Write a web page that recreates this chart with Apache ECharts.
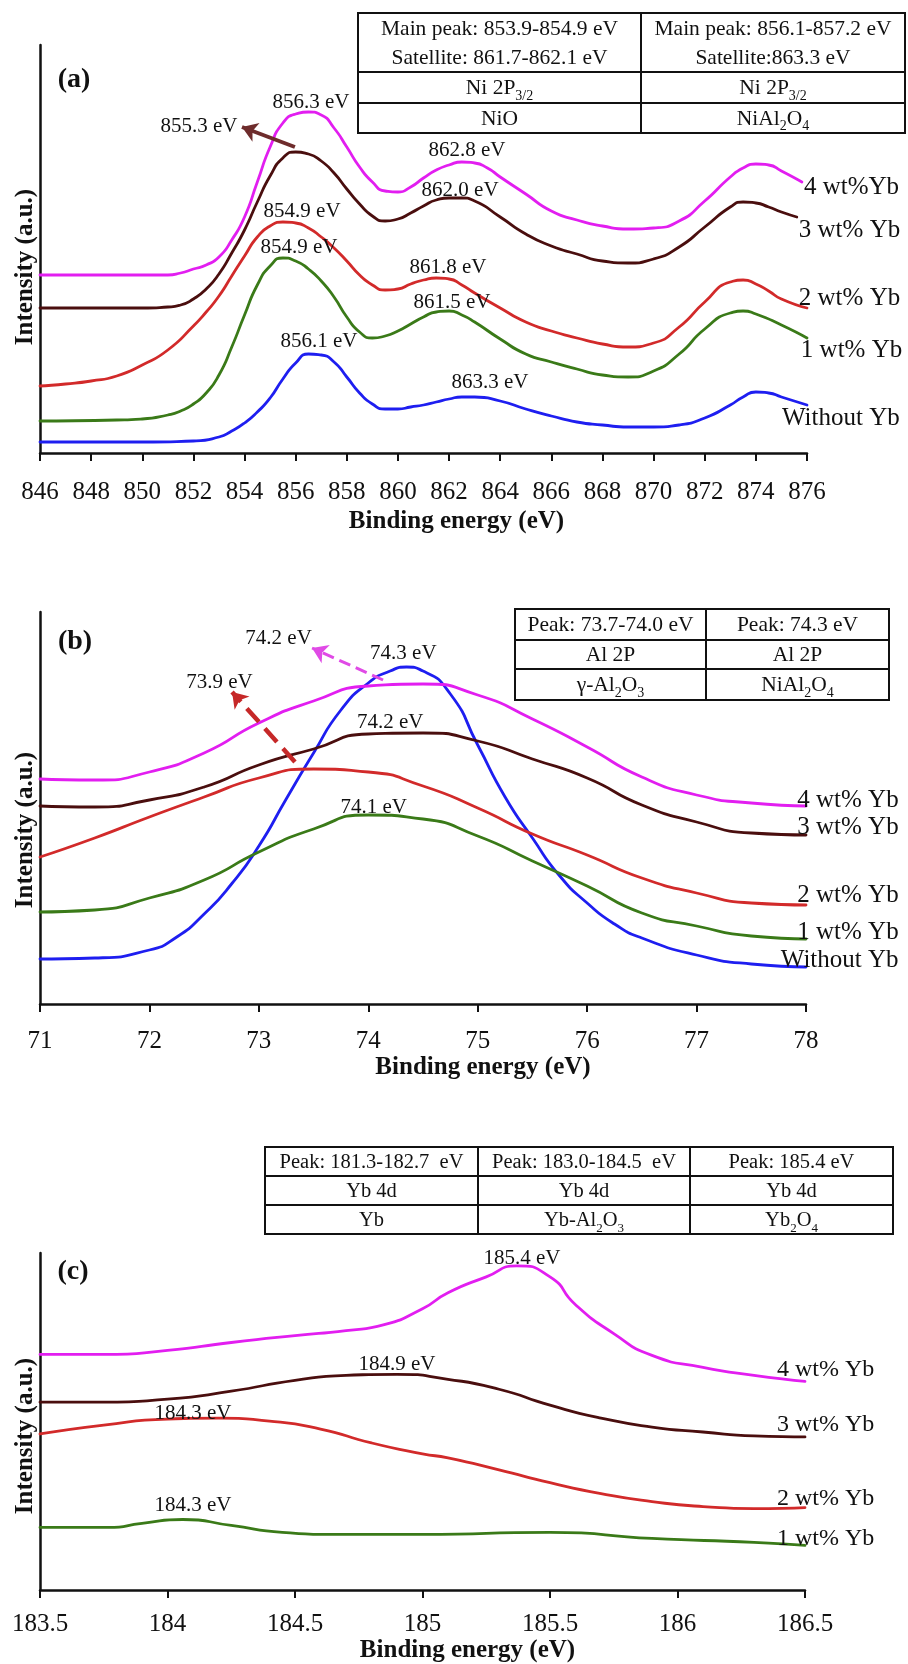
<!DOCTYPE html>
<html>
<head>
<meta charset="utf-8">
<script src="https://cdn.jsdelivr.net/npm/echarts@6/dist/echarts.min.js"></script>
<style>
html, body { margin: 0; padding: 0; background: #fff; }
#fig_xps { width: 908px; height: 1664px; }
</style>
</head>
<body>
<div id="fig_xps"></div>
<script>
var SERIF = '"Liberation Serif", "Times New Roman", serif';
var INK = '#111';

// colours per loading
var c_yb4 = '#e21ef0';
var c_yb3 = '#4a0e0e';
var c_yb2 = '#d22a2a';
var c_yb1 = '#3a7a18';
var c_yb0 = '#1e1ef0';

// ---------------- (a) Ni 2p, [binding energy eV, intensity a.u.]
var ni_axis = {min: 846, max: 876, interval: 2, top: 408};
var ni_yb4 = [[846,178],[851,178],[851.5,180],[852,184],[852.5,188],[853,196],[853.5,213],[854,236],[854.5,271],[855,306],[855.5,330],[856,339],[856.5,341],[857,338],[857.5,325],[858,306],[858.5,286],[859,271],[859.5,262],[860,261],[860.5,266],[861,275],[861.5,283],[862,288],[862.5,291],[863,290],[863.5,285],[864,276],[865,259],[866,242],[867,233],[868,227],[869,224],[870,225],[871,232],[872,252],[873,276],[873.5,285],[874,289],[874.5,288],[875,282],[875.8,271]];
var ni_yb3 = [[846,145],[850,145],[851,146],[851.5,148],[852,154],[852.5,164],[853,179],[853.5,200],[854,223],[854.5,251],[855,277],[855.5,295],[856,301],[856.5,299],[857,292],[857.5,280],[858,264],[858.5,249],[859,237],[859.5,232],[860,234],[860.5,240],[861,247],[861.5,253],[862,255],[862.5,255],[863,252],[864,236],[865,219],[866,207],[867,199],[868,192],[869,190],[870,194],[871,206],[872,226],[873,246],[873.5,251],[874,250],[874.5,246],[875,241],[875.6,236]];
var ni_yb2 = [[846,67],[847,69],[848,72],[849,77],[850,88],[851,103],[852,127],[852.5,141],[853,157],[853.5,177],[854,197],[854.5,216],[855,227],[855.5,231],[856,230],[856.5,225],[857,216],[857.5,205],[858,192],[858.5,178],[859,168],[859.5,163],[860,164],[860.5,169],[861,173],[861.5,175],[862,174],[862.5,168],[863,160],[864,145],[865,131],[866,122],[867,115],[868,109],[869,106],[870,110],[871,126],[872,151],[873,171],[873.5,173],[874,169],[874.5,162],[875,154],[876,145]];
var ni_yb1 = [[846,32],[849,33],[850,34],[851,38],[851.5,42],[852,49],[852.5,60],[853,78],[853.5,106],[854,138],[854.5,168],[855,187],[855.5,195],[856,192],[856.5,184],[857,172],[857.5,156],[858,136],[858.5,121],[859,115],[859.5,117],[860,122],[860.5,129],[861,136],[861.5,141],[862,142],[862.5,138],[863,131],[864,114],[865,99],[866,91],[867,84],[868,78],[869,76],[870,82],[871,99],[872,124],[873,140],[873.5,142],[874,139],[875,128],[876,115]];
var ni_yb0 = [[846,11],[850,11],[852,12],[853,16],[853.5,22],[854,30],[854.5,41],[855,55],[855.5,74],[856,90],[856.5,99],[857,98],[857.5,91],[858,76],[858.5,60],[859,49],[859.5,44],[860,44],[860.5,46],[861,48],[861.5,51],[862,54],[862.5,56],[863,56],[864,52],[865,44],[866,37],[867,31],[868,28],[869,26],[870,26],[871,28],[872,35],[873,48],[873.5,56],[874,61],[874.5,60],[875,56],[876,48]];
var ni_peaks = [['856.3 eV',856.6,351],['855.3 eV',852.22,327],['854.9 eV',856.25,242],['854.9 eV',856.13,206],['856.1 eV',856.91,112],['862.8 eV',862.7,303],['862.0 eV',862.43,263],['861.8 eV',861.96,186],['861.5 eV',862.11,151],['863.3 eV',863.6,71]];
var ni_names = [['4 wt%Yb',875.88,266],['3 wt% Yb',875.68,223],['2 wt% Yb',875.68,155],['1 wt% Yb',875.76,103],['Without Yb',875.02,35]];
var ni_arrow = [[855.97,306],[853.9,326]];
var ni_table = [
    ['{t|Main peak: 853.9-854.9 eV}\n{t|Satellite: 861.7-862.1 eV}', '{t|Main peak: 856.1-857.2 eV}\n{t|Satellite:863.3 eV}'],
    ['{t|Ni 2P}{s|3/2}', '{t|Ni 2P}{s|3/2}'],
    ['{t|NiO}', '{t|NiAl}{s|2}{t|O}{s|4}']
];

// ---------------- (b) Al 2p
var al_axis = {min: 71, max: 78, interval: 1, top: 392};
var al_yb4 = [[71,225],[71.5,224],[72,232],[72.5,251],[73,281],[73.5,303],[74,318],[74.5,320],[75,309],[75.5,285],[76,257],[76.5,227],[77,209],[77.5,201],[78,198]];
var al_yb3 = [[71,198],[71.5,197],[72,204],[72.5,217],[73,239],[73.5,255],[74,270],[74.5,271],[75,263],[75.5,245],[76,226],[76.5,199],[77,182],[77.5,171],[78,169]];
var al_yb2 = [[71,147],[71.5,166],[72,187],[72.5,207],[73,226],[73.5,235],[74,232],[74.5,218],[75,196],[75.5,170],[76,149],[76.5,126],[77,111],[77.5,101],[78,99]];
var al_yb1 = [[71,92],[71.5,94],[72,106],[72.5,124],[73,152],[73.5,175],[74,189],[74.5,185],[75,168],[75.5,143],[76,118],[76.5,91],[77,78],[77.5,68],[78,65]];
var al_yb0 = [[71,45],[71.5,46],[72,54],[72.25,67],[72.5,90],[72.75,120],[73,158],[73.25,205],[73.5,251],[73.75,294],[74,321],[74.2,333],[74.35,337],[74.5,333],[74.75,310],[75,259],[75.25,207],[75.5,166],[75.75,128],[76,101],[76.25,80],[76.5,66],[77,49],[77.5,40],[78,37]];
var al_peaks = [['74.2 eV',73.18,366],['74.3 eV',74.32,351],['73.9 eV',72.64,322],['74.2 eV',74.2,282],['74.1 eV',74.05,197]];
var al_names = [['4 wt% Yb',77.92,204],['3 wt% Yb',77.92,177],['2 wt% Yb',77.92,109],['1 wt% Yb',77.92,72],['Without Yb',77.77,44]];
var al_arrow_yb4 = [[74.135,324],[73.486,356]];
var al_arrow_yb2 = [[73.33,242],[72.755,312]];
var al_table = [
    ['{t|Peak: 73.7-74.0 eV}', '{t|Peak: 74.3 eV}'],
    ['{t|Al 2P}', '{t|Al 2P}'],
    ['{t|\u03b3-Al}{s|2}{t|O}{s|3}', '{t|NiAl}{s|2}{t|O}{s|4}']
];

// ---------------- (c) Yb 4d
var yb_axis = {min: 183.5, max: 186.5, interval: 0.5, top: 339};
var yb_yb4 = [[183.5,237],[183.75,237],[184,241],[184.25,249],[184.5,256],[184.7,261],[184.85,267],[185,283],[185.1,299],[185.25,315],[185.37,326],[185.5,315],[185.6,287],[185.75,258],[185.9,236],[186.1,224],[186.3,216],[186.5,210]];
var yb_yb3 = [[183.5,189],[183.75,189],[184,192],[184.25,200],[184.5,211],[184.7,216],[184.9,217],[185.1,212],[185.3,202],[185.5,186],[185.7,173],[185.9,164],[186.1,159],[186.3,155],[186.5,154]];
var yb_yb2 = [[183.5,157],[183.75,166],[184,172],[184.2,173],[184.4,170],[184.6,162],[184.8,148],[185,137],[185.1,133],[185.3,121],[185.5,108],[185.7,97],[185.9,89],[186.1,84],[186.3,82],[186.5,83]];
var yb_yb1 = [[183.5,63],[183.77,63],[183.9,67],[184.06,71],[184.25,65],[184.45,58],[184.65,56],[185,56],[185.5,58],[185.9,52],[186.3,48],[186.5,45]];
var yb_peaks = [['185.4 eV',185.39,333],['184.9 eV',184.9,227],['184.3 eV',184.1,178],['184.3 eV',184.1,85]];
var yb_names = [['4 wt% Yb',186.39,222],['3 wt% Yb',186.39,166],['2 wt% Yb',186.39,92],['1 wt% Yb',186.39,52]];
var yb_table = [
    ['{t|Peak: 181.3-182.7  eV}', '{t|Peak: 183.0-184.5  eV}', '{t|Peak: 185.4 eV}'],
    ['{t|Yb 4d}', '{t|Yb 4d}', '{t|Yb 4d}'],
    ['{t|Yb}', '{t|Yb-Al}{s|2}{t|O}{s|3}', '{t|Yb}{s|2}{t|O}{s|4}']
];

var x_title = 'Binding energy (eV)';
var y_title = 'Intensity (a.u.)';

function line_series(data, color, gi) {
    return {
        type: 'line', data: data,
        xAxisIndex: gi, yAxisIndex: gi,
        smooth: 0.6, symbol: 'none', showSymbol: false,
        lineStyle: {color: color, width: 2.8, join: 'round', cap: 'round'},
        silent: true, z: 3
    };
}

// text anchored in data coords, through a see-through scatter
function text_series(items, gi, size, align) {
    return {
        type: 'scatter', xAxisIndex: gi, yAxisIndex: gi,
        data: items.map(function(v) { return {name: v[0], value: [v[1], v[2]]}; }),
        symbolSize: 1, itemStyle: {color: 'rgba(0,0,0,0)'},
        silent: true, z: 6,
        label: {
            show: true, position: 'inside', align: align, verticalAlign: 'middle',
            formatter: '{b}', fontFamily: SERIF, fontSize: size, color: INK,
            textBorderWidth: 0, textBorderColor: 'transparent', opacity: 1
        }
    };
}

function arrow(pts, color, width, type) {
    return {
        silent: true, symbol: ['none', 'arrow'], symbolSize: 15,
        label: {show: false},
        lineStyle: {color: color, width: width, type: type},
        data: [[{coord: pts[0]}, {coord: pts[1]}]]
    };
}

function x_axis(ax, gi, margin, gap, shift) {
    return {
        type: 'value', gridIndex: gi, min: ax.min, max: ax.max, interval: ax.interval,
        axisLine: {lineStyle: {color: INK, width: 2.5}},
        axisTick: {inside: false, length: 8, lineStyle: {color: INK, width: 2}},
        axisLabel: {fontFamily: SERIF, fontSize: 25, color: INK, margin: margin},
        splitLine: {show: false},
        name: x_title, nameLocation: 'middle', nameGap: gap,
        nameTextStyle: {fontFamily: SERIF, fontSize: 25, fontWeight: 'bold', color: INK, padding: [0, 0, 0, shift]}
    };
}

function y_axis(ax, gi) {
    return {
        type: 'value', gridIndex: gi, min: 0, max: ax.top,
        axisLine: {show: true, lineStyle: {color: INK, width: 2.5}},
        axisTick: {show: false}, axisLabel: {show: false}, splitLine: {show: false}
    };
}

function rich_cell(size) {
    return {
        t: {fontFamily: SERIF, fontSize: size, color: INK, lineHeight: 29},
        s: {fontFamily: SERIF, fontSize: Math.round(size * 0.65), color: INK, lineHeight: 13,
            verticalAlign: 'bottom', padding: [7, 0, 0, 0]}
    };
}

// grid lines plus centred cell texts
function table(cols, rows, cells, size) {
    var els = [];
    var rich = rich_cell(size);
    var L = cols[0], R = cols[cols.length - 1], T = rows[0], B = rows[rows.length - 1];
    els.push({type: 'rect', shape: {x: L, y: T, width: R - L, height: B - T},
        style: {fill: '#fff', stroke: INK, lineWidth: 2}, z: 10});
    for (var i = 1; i < rows.length - 1; i++) {
        els.push({type: 'line', shape: {x1: L, y1: rows[i], x2: R, y2: rows[i]},
            style: {stroke: INK, lineWidth: 2}, z: 11});
    }
    for (var j = 1; j < cols.length - 1; j++) {
        els.push({type: 'line', shape: {x1: cols[j], y1: T, x2: cols[j], y2: B},
            style: {stroke: INK, lineWidth: 2}, z: 11});
    }
    for (var r = 0; r < cells.length; r++) {
        for (var c = 0; c < cells[r].length; c++) {
            els.push({
                type: 'text', z: 12,
                x: (cols[c] + cols[c + 1]) / 2, y: (rows[r] + rows[r + 1]) / 2 + 1,
                style: {text: cells[r][c], rich: rich, fill: INK,
                    font: size + 'px ' + SERIF, align: 'center', verticalAlign: 'middle'}
            });
        }
    }
    return els;
}

function plain_text(str, x, y, font, rot) {
    return {
        type: 'text', x: x, y: y, rotation: rot || 0, z: 12,
        style: {text: str, fill: INK, font: font, align: 'center', verticalAlign: 'middle'}
    };
}

var graphics = []
    .concat(table([358, 641, 905], [13, 72, 103, 133], ni_table, 21.5))
    .concat(table([515, 706, 889], [609, 640, 669, 700], al_table, 21.5))
    .concat(table([265, 478, 690, 893], [1147, 1176, 1205, 1234], yb_table, 20.5))
    .concat([
        plain_text('(a)', 74, 80, 'bold 28px ' + SERIF),
        plain_text('(b)', 75, 642, 'bold 28px ' + SERIF),
        plain_text('(c)', 73, 1272, 'bold 28px ' + SERIF),
        plain_text(y_title, 26, 267, 'bold 25px ' + SERIF, Math.PI / 2),
        plain_text(y_title, 26, 830, 'bold 25px ' + SERIF, Math.PI / 2),
        plain_text(y_title, 26, 1436, 'bold 25px ' + SERIF, Math.PI / 2)
    ]);

var s_ni3 = line_series(ni_yb3, c_yb3, 0);
s_ni3.markLine = arrow(ni_arrow, '#6e2c2c', 4, 'solid');
var s_al4 = line_series(al_yb4, c_yb4, 1);
s_al4.markLine = arrow(al_arrow_yb4, '#e04ae6', 3, 'dashed');
var s_al2 = line_series(al_yb2, c_yb2, 1);
s_al2.markLine = arrow(al_arrow_yb2, '#c62828', 4.5, 'dashed');

var option = {
    animation: false,
    backgroundColor: '#fff',
    grid: [
        {left: 40, top: 45, width: 767, height: 408},
        {left: 40, top: 612, width: 766, height: 392},
        {left: 40, top: 1253, width: 765, height: 339}
    ],
    xAxis: [
        x_axis(ni_axis, 0, 27, 56, 66),
        x_axis(al_axis, 1, 25, 50, 120),
        x_axis(yb_axis, 2, 22, 43, 90)
    ],
    yAxis: [y_axis(ni_axis, 0), y_axis(al_axis, 1), y_axis(yb_axis, 2)],
    series: [
        line_series(ni_yb0, c_yb0, 0),
        line_series(ni_yb1, c_yb1, 0),
        line_series(ni_yb2, c_yb2, 0),
        s_ni3,
        line_series(ni_yb4, c_yb4, 0),
        text_series(ni_peaks, 0, 21, 'center'),
        text_series(ni_names, 0, 25, 'left'),

        line_series(al_yb0, c_yb0, 1),
        line_series(al_yb1, c_yb1, 1),
        s_al2,
        line_series(al_yb3, c_yb3, 1),
        s_al4,
        text_series(al_peaks, 1, 21, 'center'),
        text_series(al_names, 1, 25, 'left'),

        line_series(yb_yb1, c_yb1, 2),
        line_series(yb_yb2, c_yb2, 2),
        line_series(yb_yb3, c_yb3, 2),
        line_series(yb_yb4, c_yb4, 2),
        text_series(yb_peaks, 2, 21, 'center'),
        text_series(yb_names, 2, 24, 'left')
    ],
    graphic: {elements: graphics}
};

var fig_xps = echarts.init(document.getElementById('fig_xps'));
fig_xps.setOption(option);
</script>
</body>
</html>
